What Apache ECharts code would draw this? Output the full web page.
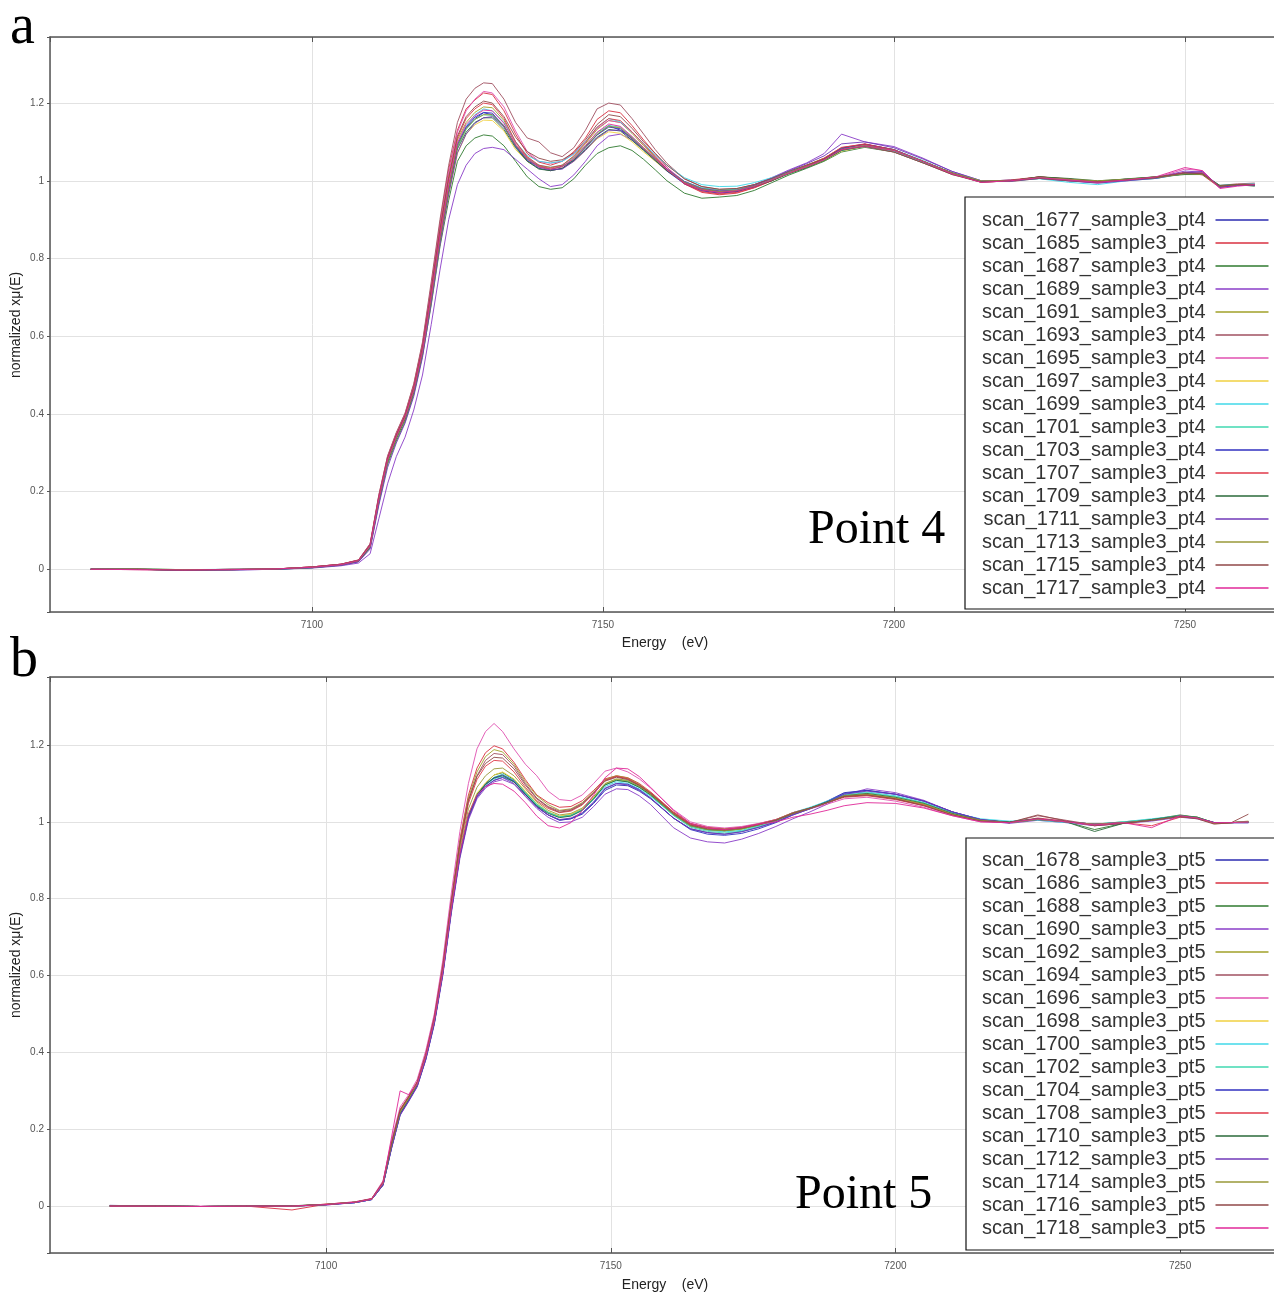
<!DOCTYPE html>
<html>
<head>
<meta charset="utf-8">
<script src="https://cdn.jsdelivr.net/npm/echarts@6/dist/echarts.min.js"></script>
<style>
  html, body { margin: 0; padding: 0; background: #fff; }
  #chart { width: 1274px; height: 1295px; }
</style>
</head>
<body>
<div id="chart"></div>
<script>
// energy grid shared by all scans (eV)
const energy = [7062, 7070, 7078, 7086, 7094, 7100, 7105, 7108,
  7110, 7111.5, 7113, 7114.5, 7116, 7117.5, 7119, 7120.5, 7122, 7123.5, 7125, 7126.5,
  7128, 7129.5, 7131, 7133, 7135, 7137, 7139, 7141, 7143, 7145, 7147, 7149, 7151, 7153,
  7155, 7157, 7159, 7161, 7164, 7167, 7170, 7173,
  7176, 7179, 7182, 7185, 7188, 7191, 7195, 7200, 7205, 7210, 7215, 7220, 7225, 7230,
  7235, 7240, 7245, 7250, 7253, 7256, 7259, 7262]

const xTicks = [7100, 7150, 7200, 7250]
const yTicks = [0, 0.2, 0.4, 0.6, 0.8, 1, 1.2]

// ---- point 4 ----
const namesA = ['scan_1677_sample3_pt4', 'scan_1685_sample3_pt4', 'scan_1687_sample3_pt4', 'scan_1689_sample3_pt4',
  'scan_1691_sample3_pt4', 'scan_1693_sample3_pt4', 'scan_1695_sample3_pt4', 'scan_1697_sample3_pt4',
  'scan_1699_sample3_pt4', 'scan_1701_sample3_pt4', 'scan_1703_sample3_pt4', 'scan_1707_sample3_pt4',
  'scan_1709_sample3_pt4', 'scan_1711_sample3_pt4', 'scan_1713_sample3_pt4', 'scan_1715_sample3_pt4',
  'scan_1717_sample3_pt4']

const pt4_1677 = [0, 0.001, -0.002, -0.001, 0, 0.005, 0.011, 0.021,
  0.058, 0.178, 0.278, 0.338, 0.388, 0.458, 0.558, 0.70, 0.85, 0.98, 1.088, 1.135,
  1.16, 1.175, 1.17, 1.142, 1.088, 1.05, 1.04, 1.028, 1.038, 1.052, 1.088, 1.118, 1.142, 1.13, 1.112, 1.08, 1.058, 1.025, 0.998, 0.976, 0.974, 0.972,
  0.988, 1.0, 1.022, 1.034, 1.056, 1.082, 1.094, 1.08, 1.048, 1.018, 0.998, 1.002, 1.006, 1.0, 0.995, 1.003, 1.008, 1.02, 1.02, 0.985, 0.988, 0.99]
const pt4_1685 = [0, -0.001, -0.002, 0, 0.001, 0.006, 0.013, 0.024,
  0.065, 0.19, 0.29, 0.35, 0.40, 0.475, 0.58, 0.73, 0.89, 1.03, 1.13, 1.185,
  1.208, 1.226, 1.222, 1.18, 1.12, 1.07, 1.048, 1.04, 1.05, 1.075, 1.11, 1.158, 1.18, 1.175, 1.142, 1.105, 1.07, 1.035, 0.992, 0.97, 0.964, 0.968,
  0.982, 1.0, 1.024, 1.04, 1.058, 1.085, 1.095, 1.08, 1.05, 1.018, 0.996, 1.0, 1.01, 1.005, 0.996, 1.002, 1.01, 1.022, 1.015, 0.982, 0.99, 0.992]
const pt4_1687 = [0, 0, -0.003, -0.001, 0.001, 0.004, 0.011, 0.02,
  0.055, 0.17, 0.27, 0.33, 0.38, 0.45, 0.55, 0.68, 0.83, 0.95, 1.05, 1.09,
  1.11, 1.118, 1.115, 1.09, 1.05, 1.01, 0.985, 0.978, 0.982, 1.005, 1.04, 1.07, 1.085, 1.09, 1.078, 1.055, 1.028, 1.0, 0.968, 0.955, 0.958, 0.962,
  0.975, 0.995, 1.015, 1.032, 1.05, 1.074, 1.086, 1.074, 1.046, 1.018, 0.998, 0.998, 1.01, 1.004, 0.998, 1.005, 1.01, 1.018, 1.016, 0.986, 0.99, 0.988]
const pt4_1689 = [0, 0, -0.002, -0.002, 0, 0.003, 0.009, 0.016,
  0.04, 0.13, 0.22, 0.29, 0.34, 0.41, 0.50, 0.63, 0.77, 0.90, 0.99, 1.04,
  1.07, 1.083, 1.086, 1.08, 1.055, 1.03, 1.005, 0.985, 0.99, 1.015, 1.05, 1.09, 1.115, 1.12, 1.105, 1.08, 1.055, 1.03, 0.998, 0.98, 0.975, 0.978,
  0.99, 1.008, 1.028, 1.046, 1.07, 1.12, 1.1, 1.088, 1.058, 1.024, 1.0, 1.0, 1.008, 1.002, 0.996, 1.002, 1.008, 1.025, 1.022, 0.984, 0.99, 0.99]
const pt4_1691 = [0, 0.001, -0.001, -0.001, 0.001, 0.005, 0.012, 0.022,
  0.06, 0.182, 0.282, 0.342, 0.392, 0.462, 0.565, 0.71, 0.865, 1.0, 1.105, 1.15,
  1.176, 1.19, 1.188, 1.155, 1.1, 1.06, 1.038, 1.032, 1.04, 1.062, 1.095, 1.132, 1.155, 1.15, 1.122, 1.09, 1.06, 1.03, 0.994, 0.975, 0.968, 0.973,
  0.985, 1.004, 1.022, 1.04, 1.058, 1.084, 1.092, 1.078, 1.05, 1.02, 0.998, 1.0, 1.008, 1.004, 0.998, 1.004, 1.01, 1.018, 1.018, 0.986, 0.99, 0.99]
const pt4_1693 = [0, 0, -0.002, 0, 0.001, 0.006, 0.013, 0.024,
  0.066, 0.192, 0.292, 0.352, 0.402, 0.478, 0.585, 0.74, 0.9, 1.04, 1.15, 1.21,
  1.238, 1.252, 1.25, 1.21, 1.15, 1.11, 1.1, 1.072, 1.062, 1.085, 1.13, 1.185, 1.2, 1.195, 1.16, 1.12, 1.08, 1.045, 1.005, 0.985, 0.978, 0.98,
  0.99, 1.006, 1.024, 1.04, 1.056, 1.08, 1.088, 1.074, 1.046, 1.016, 0.998, 1.0, 1.01, 1.003, 0.997, 1.003, 1.008, 1.018, 1.016, 0.988, 0.992, 0.994]
const pt4_1695 = [0, -0.001, -0.002, -0.001, 0.001, 0.006, 0.013, 0.023,
  0.064, 0.188, 0.288, 0.348, 0.398, 0.47, 0.575, 0.725, 0.88, 1.02, 1.125, 1.18,
  1.21, 1.23, 1.226, 1.19, 1.128, 1.075, 1.05, 1.045, 1.05, 1.07, 1.1, 1.135, 1.155, 1.15, 1.125, 1.095, 1.064, 1.034, 0.998, 0.978, 0.97, 0.972,
  0.984, 1.0, 1.02, 1.036, 1.054, 1.078, 1.088, 1.076, 1.048, 1.018, 0.996, 1.0, 1.006, 1.0, 0.994, 1.0, 1.008, 1.03, 1.026, 0.982, 0.988, 0.99]
const pt4_1697 = [0, 0, -0.002, -0.001, 0.001, 0.005, 0.011, 0.021,
  0.058, 0.176, 0.276, 0.336, 0.386, 0.455, 0.553, 0.69, 0.84, 0.965, 1.07, 1.12,
  1.144, 1.156, 1.155, 1.128, 1.08, 1.05, 1.032, 1.026, 1.032, 1.05, 1.078, 1.108, 1.126, 1.122, 1.1, 1.074, 1.05, 1.025, 0.995, 0.98, 0.975, 0.978,
  0.988, 1.003, 1.02, 1.035, 1.052, 1.076, 1.088, 1.078, 1.05, 1.02, 0.998, 0.998, 1.006, 1.002, 0.998, 1.002, 1.006, 1.018, 1.018, 0.986, 0.99, 0.99]
const pt4_1699 = [0, 0.001, -0.001, 0, 0.001, 0.005, 0.012, 0.022,
  0.06, 0.18, 0.28, 0.34, 0.39, 0.46, 0.56, 0.70, 0.85, 0.985, 1.095, 1.14,
  1.17, 1.185, 1.18, 1.15, 1.1, 1.065, 1.05, 1.046, 1.05, 1.068, 1.1, 1.138, 1.16, 1.152, 1.125, 1.095, 1.066, 1.04, 1.008, 0.99, 0.985, 0.986,
  0.995, 1.008, 1.024, 1.038, 1.054, 1.078, 1.088, 1.076, 1.048, 1.02, 1.0, 1.0, 1.005, 0.996, 0.99, 1.0, 1.006, 1.018, 1.018, 0.988, 0.99, 0.992]
const pt4_1701 = [0, 0, -0.002, -0.001, 0, 0.004, 0.011, 0.021,
  0.058, 0.178, 0.278, 0.338, 0.388, 0.458, 0.558, 0.698, 0.848, 0.978, 1.088, 1.132,
  1.158, 1.17, 1.168, 1.138, 1.09, 1.058, 1.04, 1.035, 1.04, 1.06, 1.09, 1.124, 1.142, 1.138, 1.112, 1.085, 1.058, 1.03, 0.998, 0.982, 0.976, 0.978,
  0.988, 1.004, 1.022, 1.038, 1.056, 1.08, 1.09, 1.08, 1.052, 1.02, 0.998, 1.0, 1.006, 1.002, 0.996, 1.002, 1.006, 1.02, 1.018, 0.986, 0.99, 0.99]
const pt4_1703 = [0, 0, -0.002, -0.001, 0.001, 0.005, 0.012, 0.022,
  0.06, 0.18, 0.28, 0.34, 0.39, 0.46, 0.56, 0.70, 0.852, 0.982, 1.092, 1.138,
  1.164, 1.176, 1.174, 1.14, 1.09, 1.052, 1.032, 1.026, 1.032, 1.054, 1.084, 1.118, 1.138, 1.134, 1.108, 1.08, 1.052, 1.025, 0.992, 0.974, 0.968, 0.972,
  0.984, 1.002, 1.02, 1.036, 1.056, 1.084, 1.094, 1.08, 1.05, 1.02, 0.998, 1.0, 1.008, 1.004, 0.998, 1.004, 1.008, 1.02, 1.018, 0.984, 0.988, 0.988]
const pt4_1707 = [0, 0, -0.002, -0.001, 0.001, 0.006, 0.013, 0.023,
  0.062, 0.185, 0.285, 0.345, 0.395, 0.467, 0.57, 0.715, 0.87, 1.005, 1.11, 1.16,
  1.185, 1.2, 1.196, 1.16, 1.1, 1.062, 1.04, 1.034, 1.04, 1.064, 1.098, 1.138, 1.16, 1.155, 1.126, 1.094, 1.062, 1.03, 0.992, 0.972, 0.966, 0.97,
  0.982, 1.0, 1.02, 1.038, 1.058, 1.086, 1.094, 1.08, 1.05, 1.02, 0.998, 1.002, 1.01, 1.004, 0.998, 1.002, 1.008, 1.02, 1.02, 0.986, 0.99, 0.99]
const pt4_1709 = [0, 0, -0.003, -0.001, 0, 0.004, 0.011, 0.02,
  0.057, 0.176, 0.276, 0.336, 0.386, 0.455, 0.555, 0.695, 0.845, 0.975, 1.082, 1.125,
  1.15, 1.162, 1.162, 1.132, 1.085, 1.05, 1.03, 1.026, 1.032, 1.052, 1.08, 1.112, 1.132, 1.128, 1.104, 1.078, 1.052, 1.026, 0.995, 0.978, 0.972, 0.974,
  0.985, 1.0, 1.018, 1.034, 1.052, 1.078, 1.09, 1.078, 1.05, 1.02, 0.998, 1.0, 1.01, 1.006, 1.0, 1.004, 1.01, 1.016, 1.016, 0.988, 0.99, 0.986]
const pt4_1711 = [0, 0, -0.002, -0.002, 0, 0.004, 0.01, 0.019,
  0.052, 0.165, 0.262, 0.325, 0.376, 0.445, 0.545, 0.685, 0.835, 0.965, 1.072, 1.12,
  1.148, 1.162, 1.165, 1.138, 1.09, 1.055, 1.035, 1.028, 1.03, 1.05, 1.078, 1.11, 1.13, 1.13, 1.108, 1.082, 1.056, 1.03, 0.998, 0.98, 0.974, 0.976,
  0.988, 1.006, 1.026, 1.044, 1.064, 1.095, 1.1, 1.085, 1.056, 1.024, 1.0, 0.998, 1.006, 1.0, 0.994, 1.0, 1.006, 1.02, 1.024, 0.984, 0.988, 0.99]
const pt4_1713 = [0, 0.001, -0.001, -0.001, 0.001, 0.005, 0.012, 0.022,
  0.059, 0.179, 0.279, 0.339, 0.389, 0.459, 0.559, 0.699, 0.849, 0.979, 1.09, 1.134,
  1.158, 1.17, 1.17, 1.14, 1.092, 1.056, 1.036, 1.03, 1.036, 1.056, 1.086, 1.12, 1.14, 1.136, 1.11, 1.082, 1.055, 1.028, 0.996, 0.978, 0.972, 0.975,
  0.986, 1.002, 1.02, 1.036, 1.054, 1.08, 1.09, 1.078, 1.05, 1.02, 1.0, 1.0, 1.008, 1.004, 1.0, 1.004, 1.008, 1.018, 1.016, 0.986, 0.99, 0.99]
const pt4_1715 = [0, 0, -0.002, 0, 0.001, 0.006, 0.013, 0.023,
  0.063, 0.186, 0.286, 0.346, 0.396, 0.468, 0.572, 0.72, 0.875, 1.01, 1.115, 1.165,
  1.19, 1.205, 1.2, 1.165, 1.112, 1.075, 1.058, 1.05, 1.054, 1.072, 1.105, 1.145, 1.17, 1.165, 1.135, 1.1, 1.07, 1.04, 1.005, 0.985, 0.978, 0.98,
  0.99, 1.006, 1.024, 1.04, 1.056, 1.08, 1.088, 1.074, 1.046, 1.016, 0.996, 1.0, 1.006, 1.0, 0.996, 1.002, 1.008, 1.02, 1.018, 0.986, 0.99, 0.99]
const pt4_1717 = [0, -0.001, -0.002, -0.001, 0.001, 0.005, 0.012, 0.022,
  0.06, 0.181, 0.281, 0.341, 0.391, 0.462, 0.563, 0.705, 0.858, 0.99, 1.098, 1.145,
  1.168, 1.182, 1.18, 1.148, 1.095, 1.058, 1.036, 1.03, 1.036, 1.058, 1.09, 1.125, 1.146, 1.14, 1.114, 1.085, 1.057, 1.028, 0.994, 0.976, 0.97, 0.974,
  0.985, 1.002, 1.02, 1.036, 1.054, 1.08, 1.09, 1.078, 1.05, 1.018, 0.996, 1.0, 1.008, 1.002, 0.996, 1.002, 1.01, 1.034, 1.026, 0.98, 0.986, 0.99]

const valuesA = [pt4_1677, pt4_1685, pt4_1687, pt4_1689, pt4_1691, pt4_1693, pt4_1695, pt4_1697, pt4_1699,
  pt4_1701, pt4_1703, pt4_1707, pt4_1709, pt4_1711, pt4_1713, pt4_1715, pt4_1717]

// ---- point 5 ----
const namesB = ['scan_1678_sample3_pt5', 'scan_1686_sample3_pt5', 'scan_1688_sample3_pt5', 'scan_1690_sample3_pt5',
  'scan_1692_sample3_pt5', 'scan_1694_sample3_pt5', 'scan_1696_sample3_pt5', 'scan_1698_sample3_pt5',
  'scan_1700_sample3_pt5', 'scan_1702_sample3_pt5', 'scan_1704_sample3_pt5', 'scan_1708_sample3_pt5',
  'scan_1710_sample3_pt5', 'scan_1712_sample3_pt5', 'scan_1714_sample3_pt5', 'scan_1716_sample3_pt5',
  'scan_1718_sample3_pt5']

const pt5_1678 = [0.002, 0, -0.001, 0, 0, 0.004, 0.009, 0.017,
  0.055, 0.152, 0.238, 0.274, 0.312, 0.382, 0.475, 0.605, 0.768, 0.912, 1.01, 1.065,
  1.092, 1.108, 1.116, 1.105, 1.072, 1.04, 1.018, 1.004, 1.008, 1.02, 1.048, 1.082, 1.096, 1.094, 1.08, 1.06, 1.035, 1.01, 0.982, 0.972, 0.968, 0.975,
  0.986, 1.0, 1.02, 1.035, 1.054, 1.076, 1.082, 1.072, 1.054, 1.026, 1.006, 0.998, 1.006, 1.0, 0.994, 0.998, 1.004, 1.014, 1.01, 0.998, 0.998, 0.998]
const pt5_1686 = [0.001, 0, -0.001, 0, -0.01, 0.005, 0.011, 0.019,
  0.064, 0.168, 0.252, 0.286, 0.325, 0.398, 0.494, 0.63, 0.8, 0.955, 1.07, 1.14,
  1.18, 1.198, 1.19, 1.155, 1.11, 1.07, 1.05, 1.038, 1.04, 1.055, 1.082, 1.112, 1.12, 1.115, 1.1, 1.078, 1.052, 1.026, 0.996, 0.986, 0.982, 0.986,
  0.995, 1.006, 1.024, 1.036, 1.05, 1.064, 1.068, 1.058, 1.042, 1.018, 1.002, 0.998, 1.01, 1.002, 0.99, 0.996, 1.004, 1.016, 1.012, 0.996, 0.998, 1.0]
const pt5_1688 = [0.001, 0.001, -0.001, 0, 0.001, 0.004, 0.01, 0.018,
  0.058, 0.158, 0.243, 0.279, 0.316, 0.387, 0.48, 0.61, 0.775, 0.918, 1.018, 1.072,
  1.1, 1.122, 1.128, 1.11, 1.078, 1.045, 1.025, 1.014, 1.018, 1.032, 1.062, 1.098, 1.11, 1.106, 1.092, 1.072, 1.046, 1.02, 0.99, 0.98, 0.977, 0.982,
  0.992, 1.004, 1.022, 1.036, 1.05, 1.066, 1.072, 1.062, 1.046, 1.02, 1.004, 1.0, 1.008, 1.0, 0.98, 0.996, 1.006, 1.018, 1.012, 0.996, 0.998, 1.0]
const pt5_1690 = [0, 0, -0.001, 0, 0, 0.003, 0.009, 0.017,
  0.054, 0.15, 0.236, 0.272, 0.31, 0.38, 0.472, 0.6, 0.762, 0.905, 1.005, 1.06,
  1.088, 1.104, 1.11, 1.098, 1.066, 1.035, 1.012, 0.998, 1.0, 1.012, 1.04, 1.072, 1.086, 1.084, 1.068, 1.045, 1.015, 0.985, 0.958, 0.948, 0.945, 0.955,
  0.97, 0.988, 1.008, 1.026, 1.046, 1.07, 1.086, 1.076, 1.056, 1.026, 1.004, 0.996, 1.004, 0.998, 0.99, 0.996, 1.002, 1.012, 1.008, 0.996, 0.998, 0.998]
const pt5_1692 = [0.001, 0, -0.001, 0.001, 0, 0.005, 0.01, 0.019,
  0.062, 0.165, 0.25, 0.284, 0.322, 0.395, 0.49, 0.625, 0.795, 0.948, 1.062, 1.13,
  1.17, 1.188, 1.182, 1.15, 1.105, 1.068, 1.045, 1.03, 1.034, 1.05, 1.078, 1.11, 1.12, 1.114, 1.098, 1.076, 1.05, 1.025, 0.995, 0.985, 0.982, 0.986,
  0.995, 1.006, 1.024, 1.036, 1.05, 1.066, 1.07, 1.06, 1.044, 1.02, 1.004, 0.998, 1.006, 1.0, 0.994, 1.0, 1.006, 1.016, 1.012, 0.998, 0.998, 1.002]
const pt5_1694 = [0, 0, -0.001, 0, 0, 0.004, 0.01, 0.018,
  0.061, 0.163, 0.248, 0.283, 0.32, 0.393, 0.488, 0.62, 0.79, 0.94, 1.055, 1.12,
  1.16, 1.178, 1.175, 1.145, 1.1, 1.062, 1.04, 1.028, 1.032, 1.048, 1.076, 1.108, 1.118, 1.112, 1.096, 1.075, 1.05, 1.024, 0.994, 0.984, 0.98, 0.985,
  0.994, 1.005, 1.022, 1.035, 1.05, 1.066, 1.07, 1.06, 1.044, 1.02, 1.004, 0.998, 1.016, 1.004, 0.992, 0.998, 1.006, 1.016, 1.01, 0.996, 0.998, 1.0]
const pt5_1696 = [0, 0, 0, 0, 0, 0.005, 0.011, 0.02,
  0.066, 0.172, 0.258, 0.29, 0.33, 0.404, 0.5, 0.64, 0.815, 0.975, 1.1, 1.19,
  1.235, 1.256, 1.235, 1.19, 1.15, 1.12, 1.08, 1.058, 1.055, 1.07, 1.1, 1.132, 1.14, 1.13, 1.112, 1.088, 1.06, 1.032, 1.0, 0.988, 0.984, 0.988,
  0.996, 1.006, 1.022, 1.034, 1.046, 1.06, 1.064, 1.054, 1.038, 1.016, 1.0, 0.998, 1.008, 1.002, 0.992, 0.998, 1.004, 1.014, 1.01, 0.996, 0.998, 1.0]
const pt5_1698 = [0, 0, -0.001, 0, 0, 0.004, 0.01, 0.018,
  0.058, 0.157, 0.242, 0.278, 0.316, 0.388, 0.482, 0.612, 0.776, 0.92, 1.02, 1.075,
  1.102, 1.122, 1.13, 1.112, 1.08, 1.048, 1.026, 1.015, 1.02, 1.034, 1.064, 1.098, 1.11, 1.105, 1.09, 1.07, 1.044, 1.018, 0.988, 0.978, 0.975, 0.98,
  0.99, 1.003, 1.022, 1.035, 1.05, 1.068, 1.072, 1.062, 1.046, 1.02, 1.004, 0.998, 1.006, 1.0, 0.992, 0.998, 1.004, 1.014, 1.01, 0.996, 0.998, 1.0]
const pt5_1700 = [0.001, 0, -0.001, 0, 0, 0.004, 0.009, 0.017,
  0.056, 0.154, 0.24, 0.276, 0.314, 0.384, 0.478, 0.608, 0.772, 0.915, 1.014, 1.068,
  1.096, 1.112, 1.118, 1.104, 1.074, 1.044, 1.024, 1.012, 1.016, 1.03, 1.058, 1.092, 1.104, 1.1, 1.086, 1.066, 1.042, 1.017, 0.988, 0.978, 0.974, 0.978,
  0.99, 1.004, 1.024, 1.038, 1.054, 1.072, 1.078, 1.068, 1.05, 1.024, 1.008, 1.002, 1.004, 0.998, 0.994, 1.0, 1.008, 1.016, 1.01, 0.998, 0.998, 1.0]
const pt5_1702 = [0, 0, -0.001, 0, 0, 0.004, 0.01, 0.018,
  0.057, 0.156, 0.241, 0.277, 0.315, 0.386, 0.48, 0.61, 0.774, 0.918, 1.016, 1.07,
  1.098, 1.116, 1.124, 1.108, 1.076, 1.046, 1.025, 1.013, 1.017, 1.032, 1.06, 1.096, 1.108, 1.104, 1.09, 1.068, 1.043, 1.017, 0.986, 0.975, 0.971, 0.976,
  0.988, 1.002, 1.022, 1.036, 1.052, 1.07, 1.076, 1.066, 1.05, 1.024, 1.006, 0.998, 1.006, 1.0, 0.994, 1.0, 1.006, 1.016, 1.012, 0.998, 0.998, 1.0]
const pt5_1704 = [0.001, 0, -0.001, 0, 0, 0.004, 0.009, 0.017,
  0.055, 0.153, 0.239, 0.275, 0.313, 0.383, 0.476, 0.606, 0.77, 0.914, 1.013, 1.068,
  1.098, 1.115, 1.122, 1.106, 1.072, 1.04, 1.018, 1.005, 1.008, 1.022, 1.05, 1.086, 1.1, 1.098, 1.084, 1.062, 1.036, 1.01, 0.98, 0.968, 0.965, 0.97,
  0.982, 0.998, 1.018, 1.034, 1.052, 1.074, 1.082, 1.072, 1.054, 1.026, 1.006, 0.998, 1.006, 1.0, 0.994, 0.998, 1.004, 1.014, 1.01, 0.998, 0.998, 0.998]
const pt5_1708 = [0.001, 0, -0.001, 0, 0, 0.005, 0.01, 0.019,
  0.061, 0.163, 0.248, 0.282, 0.32, 0.392, 0.487, 0.62, 0.788, 0.938, 1.048, 1.11,
  1.145, 1.16, 1.158, 1.13, 1.09, 1.055, 1.035, 1.024, 1.028, 1.044, 1.074, 1.108, 1.118, 1.112, 1.096, 1.075, 1.05, 1.024, 0.994, 0.984, 0.98, 0.985,
  0.994, 1.005, 1.024, 1.036, 1.05, 1.066, 1.07, 1.06, 1.044, 1.02, 1.004, 0.998, 1.008, 1.0, 0.994, 0.998, 0.99, 1.012, 1.01, 0.996, 0.998, 1.0]
const pt5_1710 = [0, 0.001, -0.001, 0, 0.001, 0.004, 0.01, 0.018,
  0.057, 0.156, 0.241, 0.277, 0.315, 0.386, 0.48, 0.61, 0.774, 0.916, 1.015, 1.07,
  1.097, 1.114, 1.12, 1.104, 1.072, 1.042, 1.022, 1.011, 1.015, 1.03, 1.06, 1.096, 1.108, 1.104, 1.09, 1.07, 1.045, 1.02, 0.99, 0.98, 0.977, 0.982,
  0.992, 1.004, 1.022, 1.036, 1.052, 1.068, 1.074, 1.064, 1.048, 1.022, 1.004, 1.0, 1.008, 1.0, 0.975, 0.996, 1.006, 1.016, 1.012, 0.998, 0.998, 1.0]
const pt5_1712 = [0, 0, -0.001, 0, 0, 0.003, 0.009, 0.017,
  0.055, 0.152, 0.238, 0.274, 0.312, 0.382, 0.476, 0.605, 0.768, 0.91, 1.01, 1.064,
  1.092, 1.108, 1.115, 1.1, 1.068, 1.038, 1.018, 1.006, 1.01, 1.024, 1.052, 1.088, 1.1, 1.096, 1.082, 1.062, 1.036, 1.01, 0.982, 0.972, 0.968, 0.974,
  0.986, 1.0, 1.018, 1.034, 1.05, 1.072, 1.08, 1.072, 1.054, 1.026, 1.006, 0.998, 1.006, 1.0, 0.994, 0.998, 1.004, 1.014, 1.01, 0.998, 0.998, 0.998]
const pt5_1714 = [0, 0, -0.001, 0, 0, 0.004, 0.01, 0.018,
  0.059, 0.16, 0.245, 0.28, 0.318, 0.39, 0.484, 0.615, 0.782, 0.93, 1.034, 1.09,
  1.12, 1.138, 1.14, 1.12, 1.086, 1.052, 1.03, 1.018, 1.022, 1.036, 1.066, 1.1, 1.112, 1.108, 1.093, 1.072, 1.046, 1.02, 0.99, 0.98, 0.977, 0.982,
  0.992, 1.004, 1.022, 1.035, 1.05, 1.068, 1.072, 1.062, 1.046, 1.02, 1.004, 0.998, 1.006, 1.0, 0.994, 0.998, 1.004, 1.014, 1.01, 0.996, 0.998, 1.0]
const pt5_1716 = [0, 0, -0.001, 0, 0, 0.004, 0.01, 0.019,
  0.062, 0.164, 0.25, 0.284, 0.322, 0.394, 0.49, 0.624, 0.792, 0.944, 1.056, 1.118,
  1.152, 1.168, 1.166, 1.138, 1.096, 1.06, 1.038, 1.025, 1.03, 1.046, 1.075, 1.106, 1.116, 1.11, 1.095, 1.074, 1.048, 1.022, 0.992, 0.982, 0.979, 0.984,
  0.993, 1.004, 1.022, 1.035, 1.05, 1.066, 1.07, 1.06, 1.042, 1.018, 1.002, 0.998, 1.018, 1.002, 0.99, 0.996, 1.004, 1.014, 1.008, 0.994, 0.998, 1.02]
const pt5_1718 = [0, 0, -0.001, 0, 0, 0.004, 0.01, 0.018,
  0.06, 0.18, 0.3, 0.29, 0.318, 0.39, 0.484, 0.612, 0.776, 0.918, 1.02, 1.07,
  1.092, 1.1, 1.098, 1.08, 1.05, 1.015, 0.99, 0.984, 0.998, 1.03, 1.07, 1.115, 1.14, 1.138, 1.118, 1.09, 1.06, 1.03, 0.996, 0.984, 0.98, 0.985,
  0.994, 1.0, 1.012, 1.02, 1.03, 1.042, 1.05, 1.048, 1.036, 1.016, 1.0, 0.998, 1.008, 1.0, 0.992, 0.998, 0.985, 1.016, 1.01, 0.998, 0.998, 1.0]

const valuesB = [pt5_1678, pt5_1686, pt5_1688, pt5_1690, pt5_1692, pt5_1694, pt5_1696, pt5_1698, pt5_1700,
  pt5_1702, pt5_1704, pt5_1708, pt5_1710, pt5_1712, pt5_1714, pt5_1716, pt5_1718]

// same colour cycle in both panels
const colors = ['#2b2bb0', '#d83040', '#2f7a2f', '#8a3cc8', '#a0a028', '#a05060', '#e050b0', '#f0d040', '#40d8e8',
  '#40d8b0', '#3030c0', '#e03848', '#2a6a3a', '#7038b8', '#989838', '#904848', '#e02898']

const labelFont = 'Liberation Sans, Arial, sans-serif'
const serifFont = 'Liberation Serif, Times New Roman, serif'

function xAxisFor(grid, min, max, top) {
  return {
    type: 'value', gridIndex: grid, min: min, max: max, position: top ? 'top' : 'bottom',
    axisLine: { show: true, onZero: false, lineStyle: { color: '#555', width: 1.5 } },
    axisTick: { show: true, inside: true, length: 5, lineStyle: { color: '#555' } },
    axisLabel: {
      show: !top, margin: 8, fontSize: 10, color: '#555', fontFamily: labelFont,
      showMinLabel: false, showMaxLabel: false,
      formatter: v => (xTicks.indexOf(v) >= 0 ? String(v) : '')
    },
    splitLine: { show: !top, lineStyle: { color: '#e2e2e2', width: 1 } }
  }
}

function yAxisFor(grid, min, max) {
  return {
    type: 'value', gridIndex: grid, min: min, max: max, splitNumber: 7,
    axisLine: { show: true, onZero: false, lineStyle: { color: '#555', width: 1.5 } },
    axisTick: { show: true, length: 3, lineStyle: { color: '#555' } },
    axisLabel: {
      margin: 6, fontSize: 10, color: '#555', fontFamily: labelFont,
      formatter: v => {
        const hit = yTicks.find(t => Math.abs(t - v) < 1e-6)
        return hit === undefined ? '' : String(hit)
      }
    },
    splitLine: { show: true, lineStyle: { color: '#e2e2e2', width: 1 } }
  }
}

function makeSeries(values, names, xi, yi) {
  return values.map((vals, i) => ({
    name: names[i],
    type: 'line',
    xAxisIndex: xi,
    yAxisIndex: yi,
    symbol: 'none',
    smooth: false,
    lineStyle: { width: 1, color: colors[i], opacity: 0.9 },
    itemStyle: { color: colors[i] },
    data: energy.map((e, j) => [e, vals[j]])
  }))
}

function legendFor(names, left, top, pad) {
  return {
    data: names,
    orient: 'vertical',
    left: left,
    top: top,
    align: 'right',
    icon: 'rect',
    itemWidth: 53,
    itemHeight: 1.5,
    itemGap: 3,
    padding: pad,
    backgroundColor: '#fff',
    borderColor: '#111',
    borderWidth: 1.2,
    selectedMode: false,
    textStyle: { fontFamily: labelFont, fontSize: 20, color: '#333', lineHeight: 20, padding: [0, 5, 0, 0] }
  }
}

const chart = echarts.init(document.getElementById('chart'))
chart.setOption({
  animation: false,
  backgroundColor: '#fff',
  grid: [
    { left: 50, top: 37, width: 1224, height: 575 },
    { left: 50, top: 677, width: 1224, height: 576 }
  ],
  xAxis: [
    xAxisFor(0, 7055, 7265.3, false),
    xAxisFor(0, 7055, 7265.3, true),
    xAxisFor(1, 7051.5, 7266.5, false),
    xAxisFor(1, 7051.5, 7266.5, true)
  ],
  yAxis: [
    yAxisFor(0, -0.11, 1.37),
    yAxisFor(1, -0.122, 1.377)
  ],
  legend: [
    legendFor(namesA, 965, 197, [13, 14, 11, 17]),
    legendFor(namesB, 966, 838, [12, 14, 12, 16])
  ],
  graphic: [
    { type: 'text', z: 100, left: 10, top: 0, style: { text: 'a', font: '56px ' + serifFont, fill: '#000' } },
    { type: 'text', z: 100, left: 10, top: 633, style: { text: 'b', font: '56px ' + serifFont, fill: '#000' } },
    { type: 'text', z: 100, left: 808, top: 506, style: { text: 'Point 4', font: '48px ' + serifFont, fill: '#000' } },
    { type: 'text', z: 100, left: 795, top: 1171, style: { text: 'Point 5', font: '48px ' + serifFont, fill: '#000' } },
    { type: 'text', z: 100, x: 16, y: 325, rotation: Math.PI / 2,
      style: { text: 'normalized xμ(E)', font: '14px ' + labelFont, fill: '#222', align: 'center', verticalAlign: 'middle' } },
    { type: 'text', z: 100, x: 16, y: 965, rotation: Math.PI / 2,
      style: { text: 'normalized xμ(E)', font: '14px ' + labelFont, fill: '#222', align: 'center', verticalAlign: 'middle' } },
    { type: 'text', z: 100, x: 665, y: 643,
      style: { text: 'Energy    (eV)', font: '14px ' + labelFont, fill: '#222', align: 'center', verticalAlign: 'middle' } },
    { type: 'text', z: 100, x: 665, y: 1285,
      style: { text: 'Energy    (eV)', font: '14px ' + labelFont, fill: '#222', align: 'center', verticalAlign: 'middle' } }
  ],
  series: makeSeries(valuesA, namesA, 0, 0).concat(makeSeries(valuesB, namesB, 2, 1))
})
</script>
</body>
</html>
